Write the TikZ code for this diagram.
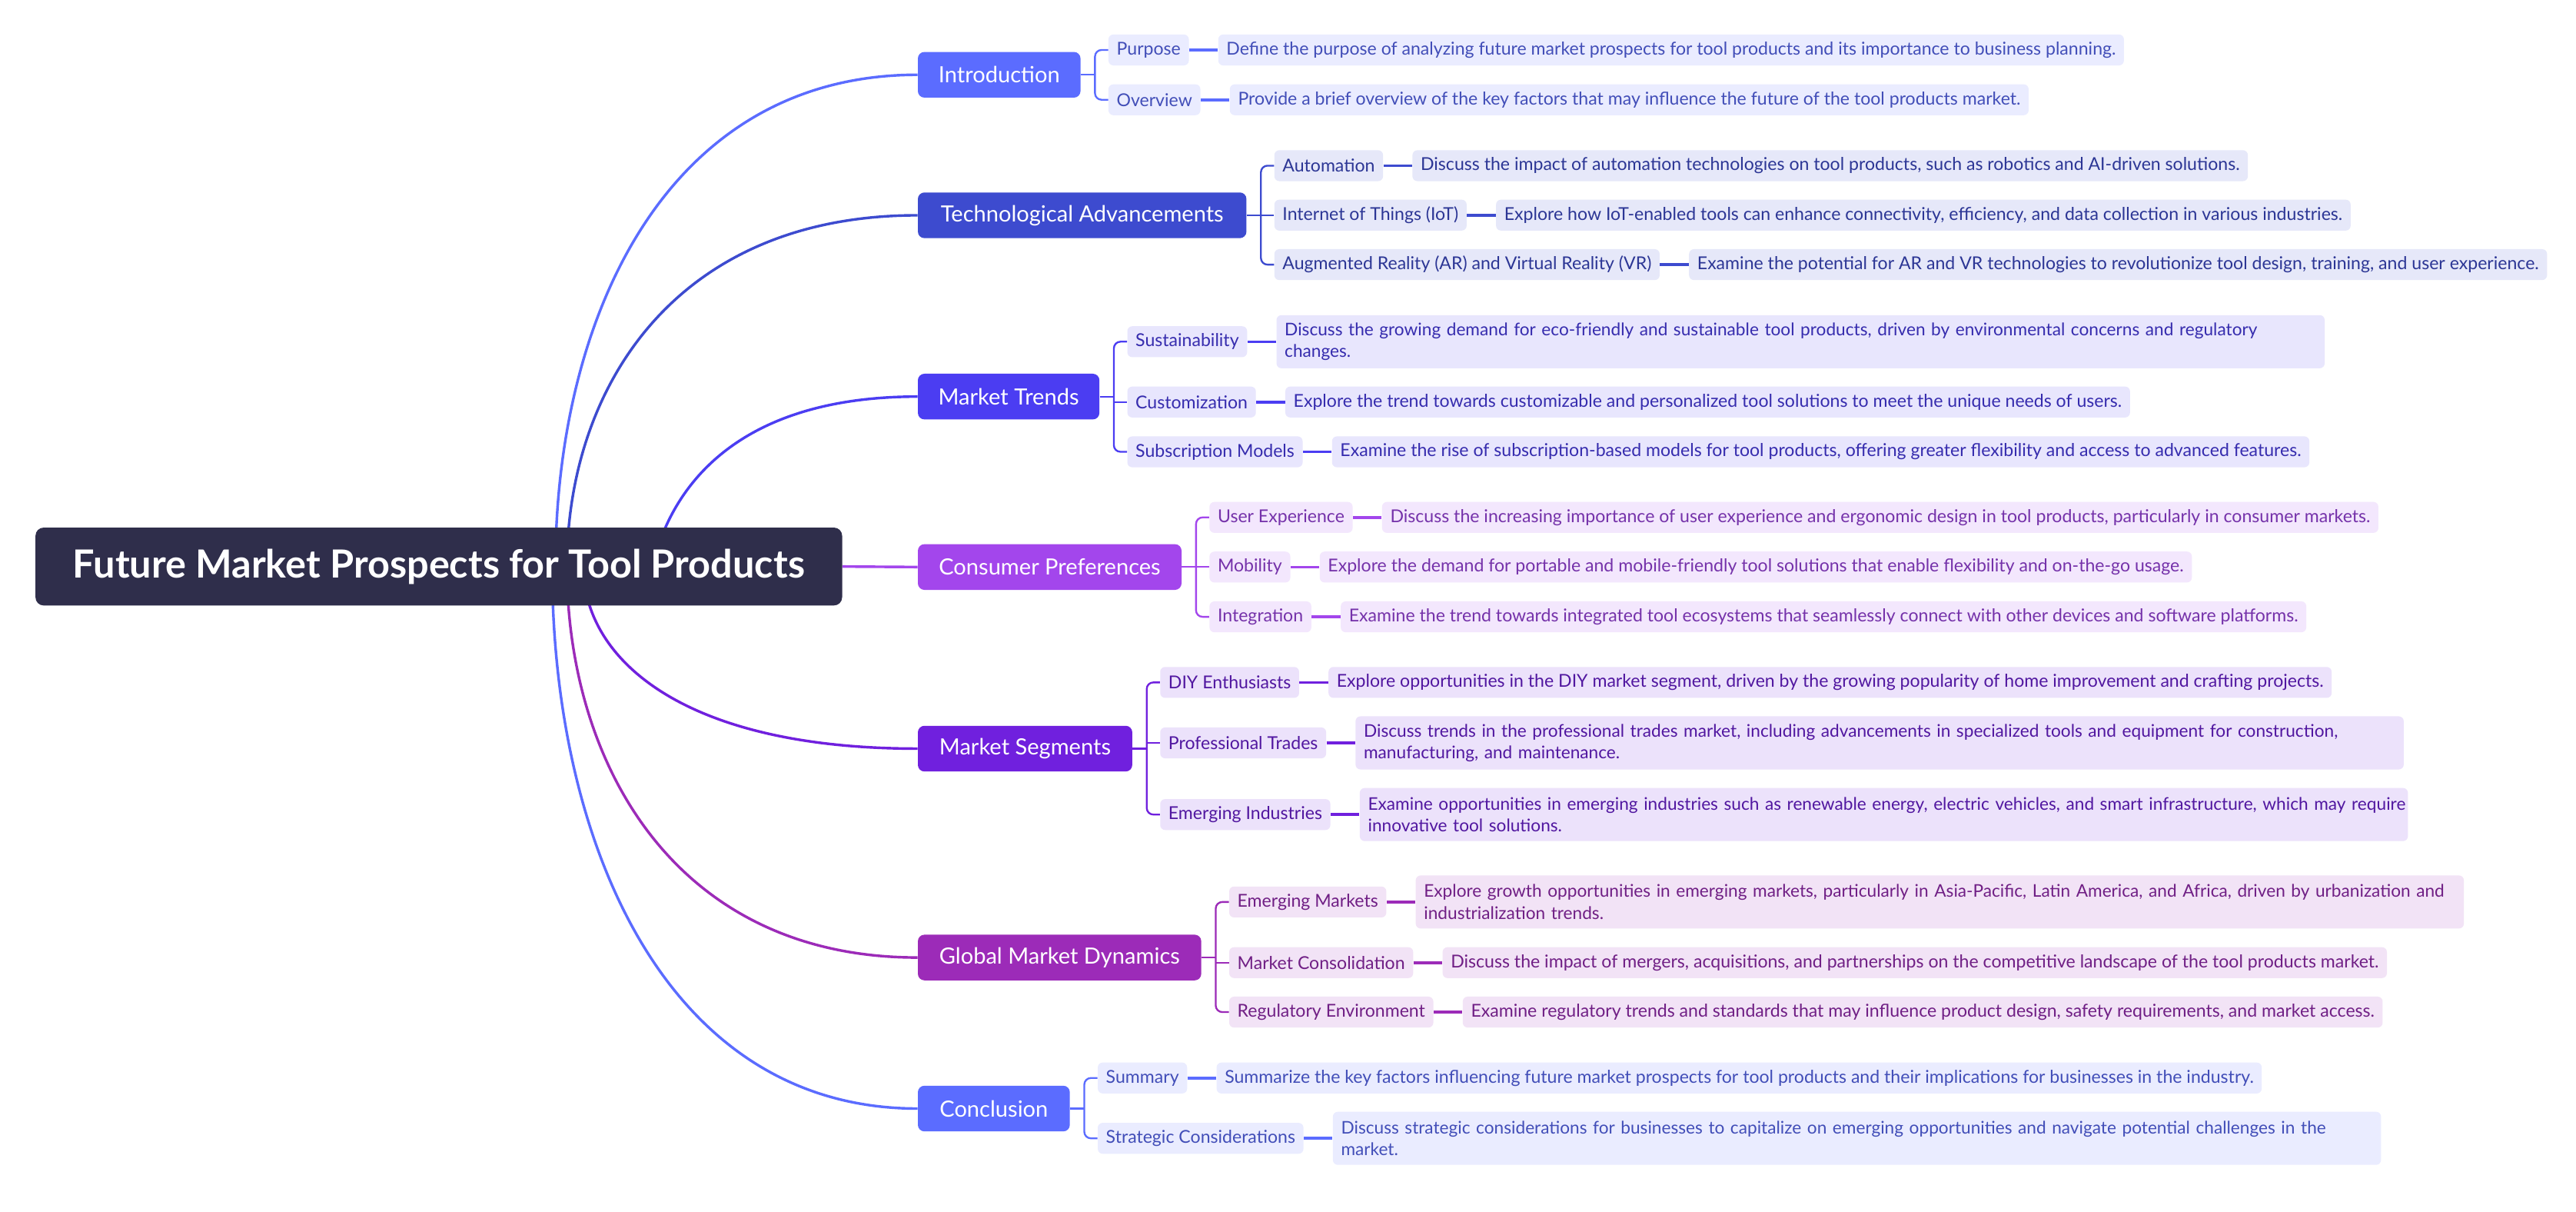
\documentclass[tikz,border=0pt]{standalone}
\usepackage{fontspec}
\setmainfont{Lato}
\usetikzlibrary{positioning, backgrounds}
\definecolor{rootC}{HTML}{2F2E4B}
\definecolor{introC}{HTML}{5B6CFF}
\definecolor{techC}{HTML}{3D4BCF}
\definecolor{trendC}{HTML}{4B3DF2}
\definecolor{prefC}{HTML}{A346EC}
\definecolor{segC}{HTML}{7020DE}
\definecolor{globC}{HTML}{9C2BB8}

\begin{document}
\begin{tikzpicture}[x=1pt, y=-1pt,
    central/.style={rectangle, rounded corners=5pt, fill=rootC, text=white, minimum width=491pt, minimum height=47.4pt, font=\fontsize{23.6}{26}\selectfont\bfseries},
    topic/.style={rectangle, rounded corners=4pt, fill=#1, text=white, minimum height=27.8pt, inner xsep=4pt, anchor=west, font=\fontsize{13.6}{16}\selectfont},
    subtopic/.style={rectangle, rounded corners=3pt, fill=#1!13, text=#1!72!black, minimum height=18.8pt, inner xsep=5pt, anchor=west, font=\fontsize{10.8}{13.3}\selectfont},
    detail/.style={subtopic=#1},
    wide/.style={text width=628pt, align=left, minimum height=32.3pt, font=\fontsize{10.6}{13.3}\selectfont},
    curve/.style={draw=#1, line width=1.6pt},
    tie/.style={draw=#1, line width=1.1pt, rounded corners=4pt},
    link/.style={draw=#1, line width=1.7pt}]
\useasboundingbox (0,0) rectangle (1568,737);

\node[central] (root) at (267.1,344.7) {Future Market Prospects for Tool Products};

% main branches
\node[topic=introC, minimum width=99pt] (intro) at (558.5,45.5) {Introduction};
\node[topic=techC, minimum width=200pt] (tech) at (558.5,131) {Technological Advancements};
\node[topic=trendC, minimum width=110.5pt] (trends) at (558.5,241.3) {Market Trends};
\node[topic=prefC, minimum width=160.5pt] (pref) at (558.5,345) {Consumer Preferences};
\node[topic=segC, minimum width=130.5pt] (seg) at (558.5,455.5) {Market Segments};
\node[topic=globC, minimum width=172.5pt] (glob) at (558.5,582.6) {Global Market Dynamics};
\node[topic=introC, minimum width=92.5pt] (concl) at (558.5,674.5) {Conclusion};

% introduction
\node[subtopic=introC] (purpose) at (674.5,30.4) {Purpose};
\node[subtopic=introC] (overview) at (674.5,60.7) {Overview};
\node[detail=introC, right=17.5pt of purpose] (purposeD) {Define the purpose of analyzing future market prospects for tool products and its importance to business planning.};
\node[detail=introC, right=17.5pt of overview] (overviewD) {Provide a brief overview of the key factors that may influence the future of the tool products market.};

% technological advancements
\node[subtopic=techC] (auto) at (775.5,100.8) {Automation};
\node[subtopic=techC] (iot) at (775.5,130.9) {Internet of Things (IoT)};
\node[subtopic=techC] (arvr) at (775.5,161) {Augmented Reality (AR) and Virtual Reality (VR)};
\node[detail=techC, right=17.5pt of auto] (autoD) {Discuss the impact of automation technologies on tool products, such as robotics and AI-driven solutions.};
\node[detail=techC, right=17.5pt of iot] (iotD) {Explore how IoT-enabled tools can enhance connectivity, efficiency, and data collection in various industries.};
\node[detail=techC, right=17.5pt of arvr] (arvrD) {Examine the potential for AR and VR technologies to revolutionize tool design, training, and user experience.};

% market trends
\node[subtopic=trendC] (sust) at (686,207.9) {Sustainability};
\node[subtopic=trendC] (custom) at (686,244.6) {Customization};
\node[subtopic=trendC] (subs) at (686,274.9) {Subscription Models};
\node[detail=trendC, wide, right=17.5pt of sust] (sustD) {\mbox{Discuss the growing demand for eco-friendly and sustainable tool products, driven by environmental concerns and regulatory}\\changes.};
\node[detail=trendC, right=17.5pt of custom] (customD) {Explore the trend towards customizable and personalized tool solutions to meet the unique needs of users.};
\node[detail=trendC, right=17.5pt of subs] (subsD) {Examine the rise of subscription-based models for tool products, offering greater flexibility and access to advanced features.};

% consumer preferences
\node[subtopic=prefC] (ux) at (736,314.8) {User Experience};
\node[subtopic=prefC] (mob) at (736,345) {Mobility};
\node[subtopic=prefC] (integ) at (736,375.3) {Integration};
\node[detail=prefC, right=17.5pt of ux] (uxD) {Discuss the increasing importance of user experience and ergonomic design in tool products, particularly in consumer markets.};
\node[detail=prefC, right=17.5pt of mob] (mobD) {Explore the demand for portable and mobile-friendly tool solutions that enable flexibility and on-the-go usage.};
\node[detail=prefC, right=17.5pt of integ] (integD) {Examine the trend towards integrated tool ecosystems that seamlessly connect with other devices and software platforms.};

% market segments
\node[subtopic=segC] (diy) at (706,415.2) {DIY Enthusiasts};
\node[subtopic=segC] (prof) at (706,452) {Professional Trades};
\node[subtopic=segC] (emind) at (706,495.6) {Emerging Industries};
\node[detail=segC, right=17.5pt of diy] (diyD) {Explore opportunities in the DIY market segment, driven by the growing popularity of home improvement and crafting projects.};
\node[detail=segC, wide, right=17.5pt of prof] (profD) {\mbox{Discuss trends in the professional trades market, including advancements in specialized tools and equipment for construction,}\\manufacturing, and maintenance.};
\node[detail=segC, wide, right=17.5pt of emind] (emindD) {\mbox{Examine opportunities in emerging industries such as renewable energy, electric vehicles, and smart infrastructure, which may require}\\innovative tool solutions.};

% global market dynamics
\node[subtopic=globC] (emmkt) at (748,548.8) {Emerging Markets};
\node[subtopic=globC] (consol) at (748,585.7) {Market Consolidation};
\node[subtopic=globC] (regul) at (748,615.8) {Regulatory Environment};
\node[detail=globC, wide, right=17.5pt of emmkt] (emmktD) {\mbox{Explore growth opportunities in emerging markets, particularly in Asia-Pacific, Latin America, and Africa, driven by urbanization and}\\industrialization trends.};
\node[detail=globC, right=17.5pt of consol] (consolD) {Discuss the impact of mergers, acquisitions, and partnerships on the competitive landscape of the tool products market.};
\node[detail=globC, right=17.5pt of regul] (regulD) {Examine regulatory trends and standards that may influence product design, safety requirements, and market access.};

% conclusion
\node[subtopic=introC] (summ) at (668,655.9) {Summary};
\node[subtopic=introC] (strat) at (668,692.6) {Strategic Considerations};
\node[detail=introC, right=17.5pt of summ] (summD) {Summarize the key factors influencing future market prospects for tool products and their implications for businesses in the industry.};
\node[detail=introC, wide, right=17.5pt of strat] (stratD) {\mbox{Discuss strategic considerations for businesses to capitalize on emerging opportunities and navigate potential challenges in the}\\market.};

% curves from the root
\begin{scope}[on background layer]
\fill[white] (0,0) rectangle (1568,737);
\draw[curve=introC] ([xshift=71pt]root.center) .. controls +(0,-150) and +(-154,0) .. (intro.west);
\draw[curve=techC] ([xshift=78pt]root.center) .. controls +(0,-107) and +(-149,0) .. (tech.west);
\draw[curve=trendC] ([xshift=130pt]root.center) .. controls +(13,-55) and +(-103,0) .. (trends.west);
\draw[curve=prefC] (root.east) -- (pref.west);
\draw[curve=segC] ([xshift=88pt]root.center) .. controls +(0,55) and +(-145,0) .. (seg.west);
\draw[curve=globC] ([xshift=78pt]root.center) .. controls +(0,118) and +(-149,0) .. (glob.west);
\draw[curve=introC] ([xshift=69pt]root.center) .. controls +(0,165) and +(-155,0) .. (concl.west);
\end{scope}

% brackets
\draw[tie=introC] (intro.east) -- ++(9,0);
\draw[tie=introC] (purpose.west) -- ++(-8,0) |- (overview.west);
\draw[tie=techC] (tech.east) -- ++(9,0);
\draw[tie=techC] (auto.west) -- ++(-8,0) |- (arvr.west);
\draw[tie=techC] (iot.west) -- ++(-8,0);
\draw[tie=trendC] (trends.east) -- ++(9,0);
\draw[tie=trendC] (sust.west) -- ++(-8,0) |- (subs.west);
\draw[tie=trendC] (custom.west) -- ++(-8,0);
\draw[tie=prefC] (pref.east) -- ++(9,0);
\draw[tie=prefC] (ux.west) -- ++(-8,0) |- (integ.west);
\draw[tie=prefC] (mob.west) -- ++(-8,0);
\draw[tie=segC] (seg.east) -- ++(9,0);
\draw[tie=segC] (diy.west) -- ++(-8,0) |- (emind.west);
\draw[tie=segC] (prof.west) -- ++(-8,0);
\draw[tie=globC] (glob.east) -- ++(9,0);
\draw[tie=globC] (emmkt.west) -- ++(-8,0) |- (regul.west);
\draw[tie=globC] (consol.west) -- ++(-8,0);
\draw[tie=introC] (concl.east) -- ++(9,0);
\draw[tie=introC] (summ.west) -- ++(-8,0) |- (strat.west);

% links to details
\draw[link=introC] (purpose) -- (purposeD);
\draw[link=introC] (overview) -- (overviewD);
\draw[link=techC] (auto) -- (autoD);
\draw[link=techC] (iot) -- (iotD);
\draw[link=techC] (arvr) -- (arvrD);
\draw[link=trendC] (sust) -- (sustD);
\draw[link=trendC] (custom) -- (customD);
\draw[link=trendC] (subs) -- (subsD);
\draw[link=prefC] (ux) -- (uxD);
\draw[link=prefC] (mob) -- (mobD);
\draw[link=prefC] (integ) -- (integD);
\draw[link=segC] (diy) -- (diyD);
\draw[link=segC] (prof) -- (profD);
\draw[link=segC] (emind) -- (emindD);
\draw[link=globC] (emmkt) -- (emmktD);
\draw[link=globC] (consol) -- (consolD);
\draw[link=globC] (regul) -- (regulD);
\draw[link=introC] (summ) -- (summD);
\draw[link=introC] (strat) -- (stratD);
\end{tikzpicture}
\end{document}
